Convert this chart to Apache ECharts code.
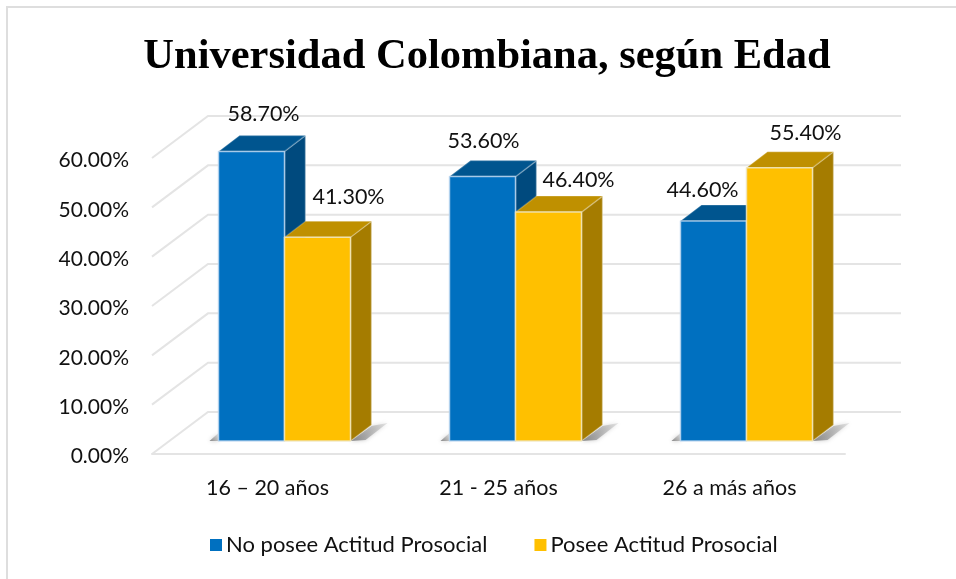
<!DOCTYPE html>
<html>
<head>
<meta charset="utf-8">
<script src="https://cdn.jsdelivr.net/npm/echarts@6/dist/echarts.min.js"></script>
<style>
    html, body {margin: 0; padding: 0; background: #fff;}
    #chart {width: 956px; height: 579px;}
</style>
</head>
<body>
<div id="chart"></div>
<script>
    // data
    const categories = ['16 – 20 años', '21 - 25 años', '26 a más años'];
    const noPosee = [58.7, 53.6, 44.6];
    const posee = [41.3, 46.4, 55.4];
    const yTicks = [0, 10, 20, 30, 40, 50, 60];

    // fake 3d: how far back the walls and the bars reach, in px
    const WALL_DX = 56, WALL_DY = -42;
    const FLOOR_INSET_X = 17, FLOOR_INSET_Y = -13;
    const SIDE_DX = 21, SIDE_DY = -16;
    const BAR_W = 66;

    // the value labels were dragged by hand in the original
    const labelNudge = {
        'No posee Actitud Prosocial': [[12, -37], [1, -36], [-11, -31]],
        'Posee Actitud Prosocial': [[31, -40], [30, -32], [26, -35]]
    };

    const gridColor = '#e4e4e4';
    const textColor = '#111';
    const font = 'Lato';

    let myChart = echarts.init(document.getElementById('chart'));

    function poly(points, fill, stroke) {
        return {
            type: 'polygon',
            shape: {points: points},
            style: {fill: fill, stroke: stroke || null, lineWidth: stroke ? 1.5 : 0, lineJoin: 'round'}
        };
    }

    function renderWall(params, api) {
        let sys = params.coordSys;
        let y = api.coord([0, api.value(0)])[1];
        let x0 = sys.x, x1 = sys.x + WALL_DX, x2 = sys.x + sys.width + WALL_DX;
        return {
            type: 'polyline',
            shape: {points: [[x0, y], [x1, y + WALL_DY], [x2, y + WALL_DY]]},
            style: {stroke: gridColor, lineWidth: 2, fill: null}
        };
    }

    // offset: -1 bar left of the category center, 0 bar right of it
    function makeBar(offset, front, top, side, edge, name) {
        return function (params, api) {
            let cat = api.value(0);
            let val = api.value(1);
            let center = api.coord([cat, 0]);
            let topY = api.coord([cat, val])[1] + FLOOR_INSET_Y;
            let x0 = center[0] + FLOOR_INSET_X + offset * BAR_W;
            let x1 = x0 + BAR_W;
            let y0 = center[1] + FLOOR_INSET_Y;
            let nudge = labelNudge[name][params.dataIndex];
            let shadow = offset < 0
                ? [[x0 - 9, y0], [x0, y0 - 8], [x0, y0]]
                : [[x1, y0], [x1 + SIDE_DX, y0 + SIDE_DY + 1], [x1 + SIDE_DX + 16, y0 + SIDE_DY - 2], [x1 + 15, y0 - 1]];
            return {
                type: 'group',
                children: [
                    {
                        type: 'polygon',
                        shape: {points: shadow},
                        style: {
                            fill: new echarts.graphic.LinearGradient(0, 1, 1, 0, [
                                {offset: 0, color: 'rgba(120,120,120,0.9)'},
                                {offset: 1, color: 'rgba(190,190,190,0.4)'}
                            ]),
                            shadowBlur: 4,
                            shadowColor: 'rgba(170,170,170,0.8)'
                        }
                    },
                    poly([[x1, topY], [x1 + SIDE_DX, topY + SIDE_DY], [x1 + SIDE_DX, y0 + SIDE_DY], [x1, y0]], side, 'rgba(255,255,255,0.3)'),
                    poly([[x0, topY], [x0 + SIDE_DX, topY + SIDE_DY], [x1 + SIDE_DX, topY + SIDE_DY], [x1, topY]], top, 'rgba(255,255,255,0.2)'),
                    poly([[x0, topY], [x1, topY], [x1, y0], [x0, y0]], front, edge),
                    {
                        type: 'text',
                        x: (x0 + x1) / 2 + nudge[0],
                        y: topY + nudge[1],
                        style: {
                            text: val.toFixed(2) + '%',
                            font: '21.5px ' + font,
                            fill: textColor,
                            align: 'center',
                            verticalAlign: 'middle'
                        }
                    }
                ]
            };
        };
    }

    let option = {
        animation: false,
        backgroundColor: '#fff',
        title: {
            text: 'Universidad Colombiana, según Edad',
            left: 482,
            top: 31,
            textAlign: 'center',
            textStyle: {
                fontFamily: 'Liberation Serif',
                fontWeight: 'bold',
                fontSize: 42.5,
                color: '#000'
            }
        },
        graphic: [
            {
                // frame of the chart area, bottom and right are cut off in the original
                type: 'polyline',
                shape: {points: [[7, 579], [7, 7], [956, 7]]},
                style: {stroke: '#dedede', lineWidth: 2, fill: null}
            }
        ],
        legend: {
            left: 205,
            top: 529,
            itemWidth: 12,
            itemHeight: 12,
            itemGap: 47,
            icon: 'rect',
            data: ['No posee Actitud Prosocial', 'Posee Actitud Prosocial'],
            textStyle: {fontFamily: font, fontSize: 22, color: textColor, padding: [0, 0, 0, -1]}
        },
        grid: {left: 152, right: 111, top: 158, bottom: 125},
        xAxis: {
            type: 'category',
            data: categories,
            axisTick: {show: false},
            axisLine: {lineStyle: {color: gridColor, width: 2}},
            axisLabel: {margin: 23, fontFamily: font, fontSize: 21.5, color: textColor}
        },
        yAxis: {
            type: 'value',
            min: 0,
            max: 60,
            interval: 10,
            splitLine: {show: false},
            axisLine: {show: false},
            axisTick: {show: false},
            axisLabel: {
                margin: 23,
                fontFamily: font,
                fontSize: 21,
                color: textColor,
                verticalAlign: 'top',
                lineHeight: 5,
                formatter: v => v.toFixed(2) + '%'
            }
        },
        series: [
            {
                name: 'pared',
                type: 'custom',
                silent: true,
                renderItem: renderWall,
                encode: {y: 0},
                data: yTicks.map(v => [v]),
                z: 1
            },
            {
                name: 'No posee Actitud Prosocial',
                type: 'custom',
                renderItem: makeBar(-1, '#0070C0', '#00558F', '#004A7E', 'rgba(190,215,240,0.8)', 'No posee Actitud Prosocial'),
                itemStyle: {color: '#0070C0'},
                encode: {x: 0, y: 1},
                data: noPosee.map((v, i) => [i, v]),
                z: 2
            },
            {
                name: 'Posee Actitud Prosocial',
                type: 'custom',
                renderItem: makeBar(0, '#FFC000', '#BF9000', '#A57C00', 'rgba(240,230,190,0.85)', 'Posee Actitud Prosocial'),
                itemStyle: {color: '#FFC000'},
                encode: {x: 0, y: 1},
                data: posee.map((v, i) => [i, v]),
                z: 3
            }
        ]
    };

    myChart.setOption(option);
</script>
</body>
</html>
